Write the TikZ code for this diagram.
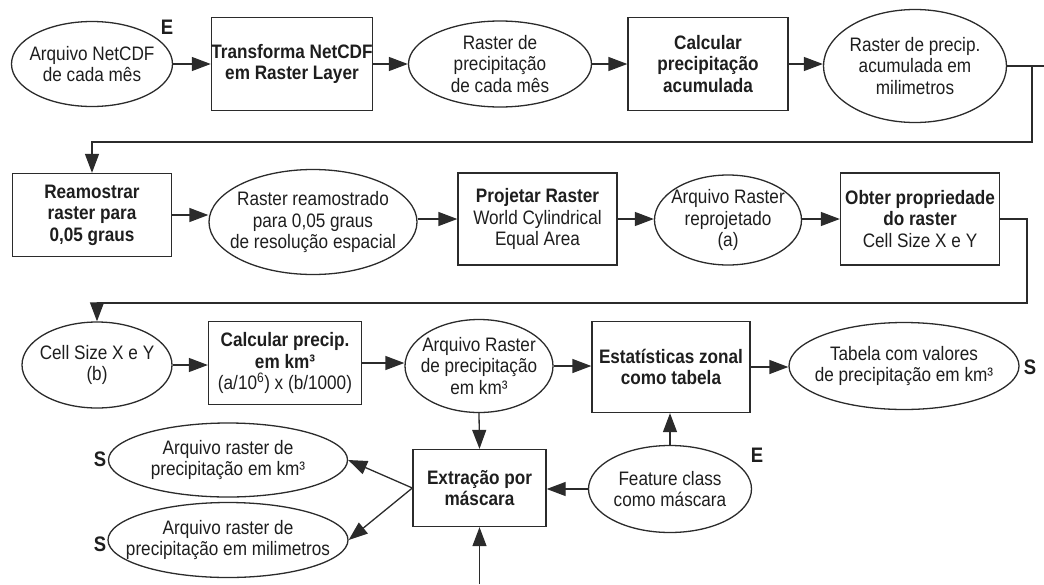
\documentclass[tikz,border=0pt]{standalone}
\usepackage{fontspec}
\setmainfont{Liberation Sans}[FakeStretch=0.88]
\usetikzlibrary{shapes.geometric,arrows.meta}
\definecolor{ln}{HTML}{2B2B2B}
\definecolor{tx}{HTML}{1E1E1E}
\newcommand\ellnode[6]{%
  \node[ellshape, minimum width=#4pt, minimum height=#5pt] (#1) at (#2,#3) {};
  \node[txt] (#1t) at (#1) {#6};}
\begin{document}
\begin{tikzpicture}[x=1pt,y=-1pt,
  box/.style={draw=ln, line width=1.3pt, rectangle, inner sep=0pt, align=center, text=tx,
    font=\fontsize{19.5}{21.5}\selectfont},
  boxb/.style={box, font=\fontsize{19.5}{21.5}\selectfont\bfseries},
  ellshape/.style={draw=ln, line width=1.3pt, ellipse, inner sep=0pt},
  txt/.style={align=center, text=tx, inner sep=0pt, font=\fontsize{19.5}{21.5}\selectfont},
  arr/.style={draw=ln, line width=1.3pt, -{Triangle[length=19pt,width=14pt]}},
  ln/.style={draw=ln, line width=1.3pt},
  io/.style={font=\fontsize{21}{21}\selectfont\bfseries, text=tx, inner sep=0pt}]
\useasboundingbox (0,0) rectangle (1044,584);

% Row 1
\ellnode{n1}{92}{64}{161}{85}{Arquivo NetCDF\\de cada mês}
\node[io] (e1) at (167,27) {E};
\node[boxb, minimum width=158pt, minimum height=93pt] (n2) at (292,64) {Transforma NetCDF\\em Raster Layer};
\ellnode{n3}{500}{64}{183}{86}{Raster de\\precipitação\\de cada mês}
\node[boxb, minimum width=160pt, minimum height=93pt] (n4) at (708,64) {Calcular\\precipitação\\acumulada};
\ellnode{n5}{915}{66}{183}{113}{Raster de precip.\\acumulada em\\milimetros}

% Row 2
\node[boxb, minimum width=159pt, minimum height=83pt] (n6) at (92,215) {Reamostrar\\raster para\\0,05 graus};
\ellnode{n7}{313}{222}{208}{105}{Raster reamostrado\\para 0,05 graus\\de resolução espacial}
\node[box, minimum width=159pt, minimum height=92pt] (n8) at (537.5,219) {\textbf{Projetar Raster}\\World Cylindrical\\Equal Area};
\ellnode{n9}{728}{220}{147}{90}{Arquivo Raster\\reprojetado\\(a)}
\node[box, minimum width=159pt, minimum height=92pt] (n10) at (920,219) {\textbf{Obter propriedade}\\\textbf{do raster}\\Cell Size X e Y};

% Row 3
\ellnode{n11}{97}{365}{150}{86}{Cell Size X e Y\\(b)}
\node[box, minimum width=153pt, minimum height=83pt] (n12) at (285,363) {\textbf{Calcular precip.}\\\textbf{em km³}\\(a/10\textsuperscript{6}) x (b/1000)};
\ellnode{n13}{479}{366}{148}{93}{Arquivo Raster\\de precipitação\\em km³}
\node[boxb, minimum width=158pt, minimum height=91pt] (n14) at (671,367) {Estatísticas zonal\\como tabela};
\ellnode{n15}{904}{366}{230}{87}{Tabela com valores\\de precipitação em km³}
\node[io] (s1) at (1030,367) {S};

% Row 4
\node[boxb, minimum width=133pt, minimum height=77pt] (n16) at (479.5,488) {Extração por\\máscara};
\ellnode{n17}{670}{489}{163}{87}{Feature class\\como máscara}
\node[io] (e2) at (757,455) {E};
\ellnode{n18}{228}{460}{239}{74}{Arquivo raster de\\precipitação em km³}
\ellnode{n19}{228}{540}{240}{75}{Arquivo raster de\\precipitação em milimetros}
\node[io] (s2) at (100,459) {S};
\node[io] (s3) at (100,544) {S};

% helper coordinates
\coordinate (k0) at (1044,66);
\coordinate (k1) at (1032,142);
\coordinate (k2) at (1027,303);
\coordinate (k3) at (479.5,584);

% Connectors row 1
\draw[arr] (n1.east) -- (n1.east -| n2.west);
\draw[arr] (n2.east) -- (n2.east -| n3.west);
\draw[arr] (n3.east) -- (n3.east -| n4.west);
\draw[arr] (n4.east) -- (n4.east -| n5.west);
\draw[ln] (n5.east) -- (k0);
\draw[arr] (n5.east) -| (k1) -| (n6.north);

% Connectors row 2
\draw[arr] (n6.east) -- (n6.east -| n7.west);
\draw[arr] (n8.west -| n7.east) -- (n8.west);
\draw[arr] (n8.east) -- (n8.east -| n9.west);
\draw[arr] (n10.west -| n9.east) -- (n10.west);
\draw[arr] (n10.east) -| (k2) -| (n11.north);

% Connectors row 3
\draw[arr] (n11.east) -- (n11.east -| n12.west);
\draw[arr] (n12.east) -- (n12.east -| n13.west);
\draw[arr] (n13.east) -- (n13.east -| n14.west);
\draw[arr] (n14.east) -- (n14.east -| n15.west);
\draw[arr] (n13.south) -- (n16.north);

% Connectors row 4
\draw[arr] (n17.north) -- (n17.north |- n14.south);
\draw[arr] (n17.west) -- (n17.west -| n16.east);
\draw[arr] (n16.west) -- (n18.east);
\draw[arr] (n16.west) -- (n19.east);
\draw[arr] (k3) -- (n16.south);
\end{tikzpicture}
\end{document}
